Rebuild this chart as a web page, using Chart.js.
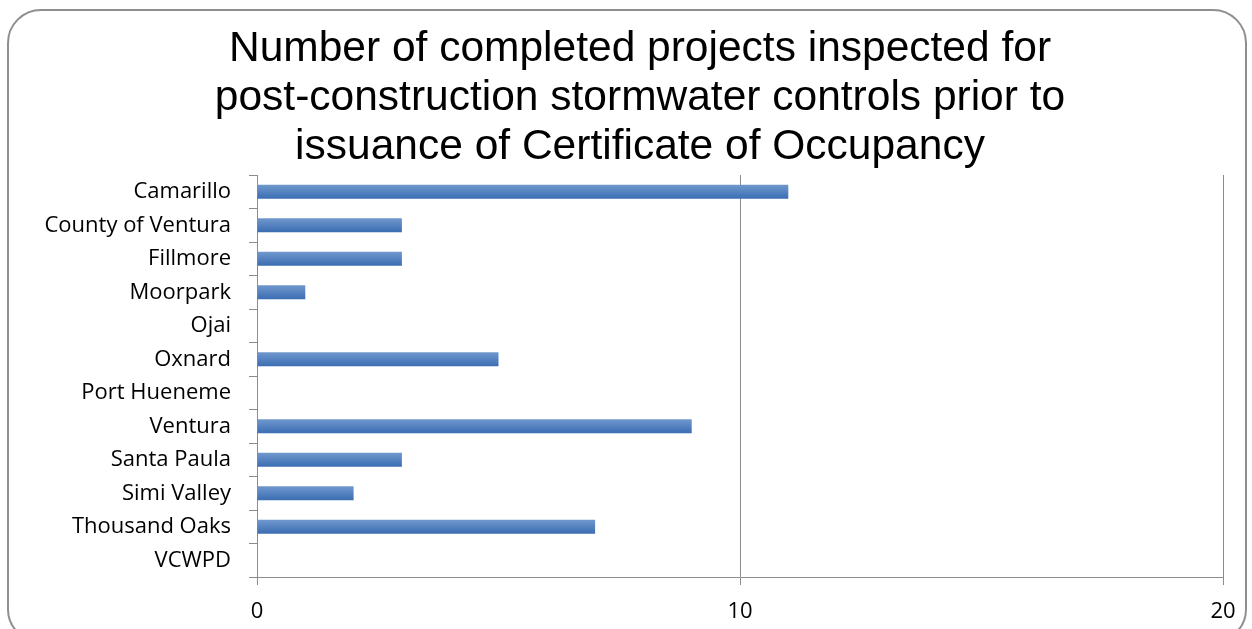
<!DOCTYPE html>
<html>
<head>
<meta charset="utf-8">
<script src="https://cdn.jsdelivr.net/npm/chart.js"></script>
<style>
  html, body { margin: 0; padding: 0; background: #fff; overflow: hidden; }
  #wrap { position: relative; width: 1252px; height: 629px; }
  #frame {
    position: absolute; left: 7px; top: 9px; width: 1236px; height: 630px;
    border: 2px solid #8f8f8f; border-radius: 34px; pointer-events: none;
  }
  canvas { position: absolute; left: 0; top: 0; }
</style>
</head>
<body>
<div id="wrap">
  <div id="frame"></div>
  <canvas id="chart" width="1252" height="629"></canvas>
</div>
<script>
// agencies, top to bottom
const agencies = [
  'Camarillo', 'County of Ventura', 'Fillmore', 'Moorpark', 'Ojai', 'Oxnard',
  'Port Hueneme', 'Ventura', 'Santa Paula', 'Simi Valley', 'Thousand Oaks', 'VCWPD'
];
const projectsInspected = [11, 3, 3, 1, 0, 5, 0, 9, 3, 2, 7, 0];
const xTicks = [0, 10, 20];

const titleLines = [
  'Number of completed projects inspected for',
  'post-construction stormwater controls prior to',
  'issuance of Certificate of Occupancy'
];

const axisGray = '#8c8c8c';
const labelFont = { family: '"Open Sans", "Noto Sans", sans-serif', size: 22 };

// vertical shading on each bar, lighter on top
function barFill(ctx) {
  const chart = ctx.chart;
  if (!chart.chartArea || ctx.dataIndex === undefined) return '#4a7dbf';
  const y = chart.scales.y.getPixelForValue(ctx.dataIndex);
  const g = chart.ctx.createLinearGradient(0, y - 7, 0, y + 7);
  g.addColorStop(0, '#7098cd');
  g.addColorStop(1, '#3b6db3');
  return g;
}

new Chart(document.getElementById('chart').getContext('2d'), {
  type: 'bar',
  data: {
    labels: agencies,
    datasets: [{
      data: projectsInspected,
      backgroundColor: barFill,
      borderWidth: 0,
      categoryPercentage: 1,
      barPercentage: 0.42
    }]
  },
  options: {
    indexAxis: 'y',
    responsive: false,
    animation: false,
    layout: { padding: { left: 28, right: 0, top: 0, bottom: 0 } },
    plugins: {
      legend: { display: false },
      tooltip: { enabled: false },
      title: {
        display: true,
        text: titleLines,
        color: '#000',
        font: { family: '"Liberation Sans", Arial, sans-serif', size: 42.5, weight: 'normal', lineHeight: 1.153 },
        padding: { top: 25, bottom: 3 }
      }
    },
    scales: {
      x: {
        min: 0,
        max: 20,
        afterBuildTicks: (scale) => { scale.ticks = xTicks.map(v => ({ value: v })); },
        afterFit: (scale) => { scale.height = 52; scale.paddingRight = 29; },
        grid: { color: axisGray, lineWidth: 1, tickLength: 8, drawOnChartArea: true },
        border: { color: axisGray, width: 1 },
        ticks: { color: '#000', font: labelFont, padding: 14, maxRotation: 0 }
      },
      y: {
        afterFit: (scale) => { scale.width = 229; },
        grid: { color: axisGray, lineWidth: 1, tickLength: 8, drawOnChartArea: false },
        border: { color: axisGray, width: 1 },
        ticks: { color: '#000', font: labelFont, padding: 18, autoSkip: false }
      }
    }
  }
});
</script>
</body>
</html>
